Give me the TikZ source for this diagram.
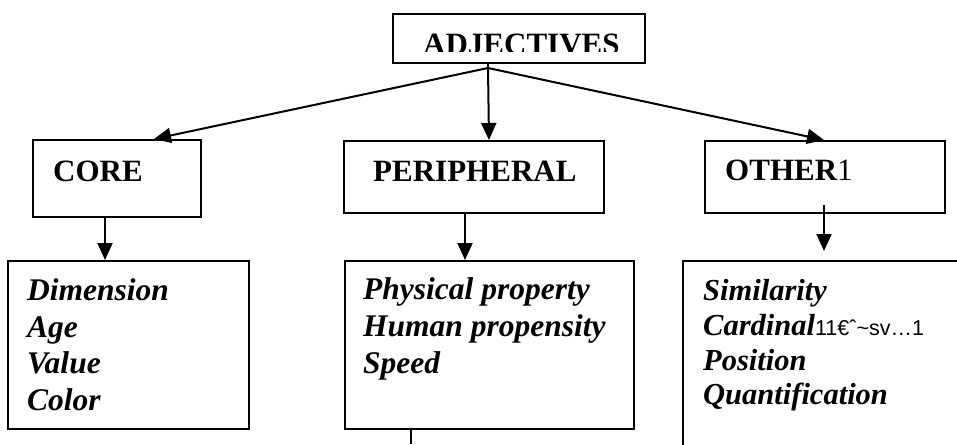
\documentclass[tikz,border=0pt]{standalone}
\usepackage{fontspec}
\setmainfont{Liberation Serif}
\newfontfamily\junkfont{Liberation Sans}
\usetikzlibrary{arrows.meta}

\tikzset{
  box/.style={draw=black, line width=2pt, anchor=north west, inner sep=0pt},
  conn/.style={draw=black, line width=2pt},
  arr/.style={conn, -{Triangle[length=17pt,width=15pt]}},
  head/.style={anchor=base west, inner sep=0pt, font=\fontsize{31}{31}\selectfont\bfseries},
  item/.style={anchor=base west, inner sep=0pt, font=\fontsize{31.5}{31.5}\selectfont\bfseries\itshape},
  itemr/.style={item, font=\fontsize{30.5}{30.5}\selectfont\bfseries\itshape},
}

\begin{document}
\begin{tikzpicture}[x=1pt, y=-1pt]
  \clip (0,0) rectangle (957,444);
  \fill[white] (0,0) rectangle (957,444);

  % top level
  \node[box, minimum width=252pt, minimum height=49pt] (adj) at (392,13) {};
  \begin{scope}
    \clip (392,13) rectangle (644,52);
    \node[head] (adjtext) at (423,54) {ADJECTIVES};
  \end{scope}
  \coordinate (fork) at (488,68);

  % second level
  \node[box, minimum width=168pt, minimum height=77pt] (core) at (32,139) {};
  \node[head] (coretext) at (53,181) {CORE};
  \node[box, minimum width=260pt, minimum height=72pt] (per) at (343,140) {};
  \node[head] (pertext) at (373,181) {PERIPHERAL};
  \node[box, minimum width=240pt, minimum height=72pt] (oth) at (704,140) {};
  \node[head] (othtext) at (725,180) {OTHER{\mdseries 1}};

  % third level
  \node[box, minimum width=241pt, minimum height=168pt] (dim) at (7,260) {};
  \node[item] (d1) at (27,300) {Dimension};
  \node[item] (d2) at (27,337) {Age};
  \node[item] (d3) at (27,373) {Value};
  \node[item] (d4) at (27,410) {Color};

  \node[box, minimum width=289pt, minimum height=168pt] (phys) at (344,260) {};
  \node[item] (p1) at (363,299) {Physical property};
  \node[item] (p2) at (363,336) {Human propensity};
  \node[item] (p3) at (363,373) {Speed};

  \node[box, minimum width=330pt, minimum height=230pt] (sim) at (682,260) {};
  \node[itemr] (s1) at (703,300) {Similarity};
  \node[itemr] (s2) at (703,335) {Cardinal{\junkfont\mdseries\upshape\fontsize{21.5}{21.5}\selectfont 11€ˆ\string~sv…1}};
  \node[itemr] (s3) at (703,370) {Position};
  \node[itemr] (s4) at (703,404) {Quantification};

  % connectors
  \draw[arr] (fork) -- ([xshift=37pt]core.north);
  \draw[arr] (fork) -- ([xshift=15pt]per.north);
  \draw[arr] (fork) -- ([xshift=-1pt]oth.north);
  \draw[conn] (adj.south -| fork) -- (fork);

  \draw[arr] ([xshift=-12pt]core.south) -- ([xshift=-12pt]core.south |- dim.north);
  \draw[arr] ([xshift=-9pt]per.south) -- ([xshift=-9pt]per.south |- phys.north);
  \draw[arr, shorten >=9pt] ([xshift=-1pt,yshift=9pt]oth.south) -- ([xshift=-1pt]oth.south |- sim.north);

  \coordinate (stubend) at (411,444);
  \draw[conn] (phys.south -| stubend) -- (stubend);
\end{tikzpicture}
\end{document}
